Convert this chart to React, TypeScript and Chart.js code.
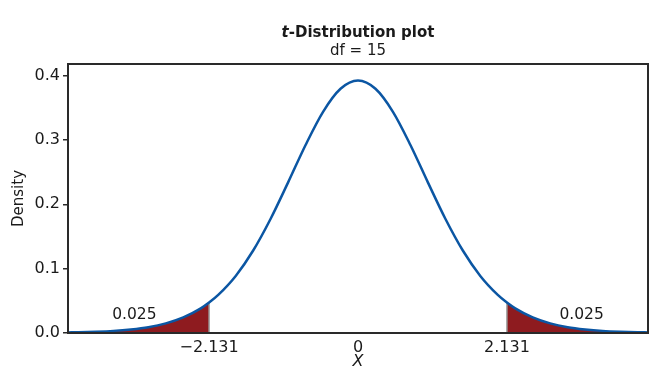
import React, { useEffect, useRef } from "react";
import { Chart, registerables } from "chart.js";

Chart.register(...registerables);

// t-distribution (df = 15) density curve
const xValues = [
  -4.15, -4, -3.75, -3.5, -3.25, -3, -2.75, -2.5, -2.25, -2.131, -2, -1.75, -1.5, -1.25, -1, -0.75, -0.5, -0.25,
  0, 0.25, 0.5, 0.75, 1, 1.25, 1.5, 1.75, 2, 2.131, 2.25, 2.5, 2.75, 3, 3.25, 3.5, 3.75, 4, 4.15,
];
const density = [
  0.0009, 0.0012, 0.002, 0.0033, 0.0056, 0.0091, 0.015, 0.0242, 0.0383, 0.0473, 0.0592, 0.0887, 0.1282, 0.1776, 0.2341, 0.2922, 0.3437, 0.3795,
  0.3923, 0.3795, 0.3437, 0.2922, 0.2341, 0.1776, 0.1282, 0.0887, 0.0592, 0.0473, 0.0383, 0.0242, 0.015, 0.0091, 0.0056, 0.0033, 0.002, 0.0012, 0.0009,
];
const criticalValues = [-2.131, 2.131];
const xTickValues = [-2.131, 0, 2.131];
const xTickLabels = ["\u22122.131", "0", "2.131"];
const yTickValues = [0, 0.1, 0.2, 0.3, 0.4];
const tailLabelX = [-3.2, 3.2];
const tailLabelY = [0.028, 0.028];
const tailLabelText = ["0.025", "0.025"];
const titleItalic = "t";
const titleRest = "-Distribution plot";
const subtitle = "df = 15";

const FONT = "'DejaVu Sans', 'Liberation Sans', Arial, sans-serif";

export default function App() {
  const ref = useRef<HTMLCanvasElement | null>(null);

  useEffect(() => {
    const canvas = ref.current;
    if (!canvas) return;
    const curve = xValues.map((x, i) => ({ x, y: density[i] }));
    const leftTail = curve.filter((p) => p.x <= criticalValues[0] + 1e-9);
    const rightTail = curve.filter((p) => p.x >= criticalValues[1] - 1e-9);
    const critY = (cx: number) => density[xValues.indexOf(cx)];
    const vLines = criticalValues.map((cx) => [
      { x: cx, y: 0 },
      { x: cx, y: critY(cx) },
    ]);

    const decor = {
      id: "decor",
      afterDatasetsDraw(chart: any) {
        const { ctx, chartArea, scales } = chart;
        ctx.save();
        // labels in the tails
        ctx.fillStyle = "#1a1a1a";
        ctx.font = `15.5px ${FONT}`;
        ctx.textAlign = "center";
        ctx.textBaseline = "middle";
        tailLabelText.forEach((t, i) => {
          ctx.fillText(t, scales.x.getPixelForValue(tailLabelX[i]), scales.y.getPixelForValue(tailLabelY[i]));
        });
        // frame
        ctx.strokeStyle = "#2a2a2a";
        ctx.lineWidth = 2;
        ctx.strokeRect(chartArea.left, chartArea.top, chartArea.right - chartArea.left, chartArea.bottom - chartArea.top);
        // title
        const cx = (chartArea.left + chartArea.right) / 2;
        ctx.fillStyle = "#1a1a1a";
        ctx.textBaseline = "alphabetic";
        ctx.font = `italic bold 15px ${FONT}`;
        const w1 = ctx.measureText(titleItalic).width;
        ctx.font = `bold 15px ${FONT}`;
        const w2 = ctx.measureText(titleRest).width;
        const start = cx - (w1 + w2) / 2;
        ctx.textAlign = "left";
        ctx.font = `italic bold 15px ${FONT}`;
        ctx.fillText(titleItalic, start, 37);
        ctx.font = `bold 15px ${FONT}`;
        ctx.fillText(titleRest, start + w1, 37);
        ctx.font = `15px ${FONT}`;
        ctx.textAlign = "center";
        ctx.fillText(subtitle, cx, 55);
        ctx.restore();
      },
    };

    const chart = new Chart(canvas, {
      type: "line",
      data: {
        datasets: [
          {
            data: curve,
            borderColor: "#0b56a3",
            borderWidth: 2.5,
            pointRadius: 0,
            cubicInterpolationMode: "monotone",
            fill: false,
            order: 0,
          },
          {
            data: leftTail,
            borderWidth: 0,
            borderColor: "rgba(0,0,0,0)",
            backgroundColor: "#8e1b1f",
            pointRadius: 0,
            cubicInterpolationMode: "monotone",
            fill: "origin",
            order: 3,
          },
          {
            data: rightTail,
            borderWidth: 0,
            borderColor: "rgba(0,0,0,0)",
            backgroundColor: "#8e1b1f",
            pointRadius: 0,
            cubicInterpolationMode: "monotone",
            fill: "origin",
            order: 3,
          },
          {
            data: vLines[0],
            borderColor: "#9a9a9a",
            borderWidth: 1.5,
            pointRadius: 0,
            fill: false,
            order: 2,
          },
          {
            data: vLines[1],
            borderColor: "#9a9a9a",
            borderWidth: 1.5,
            pointRadius: 0,
            fill: false,
            order: 2,
          },
        ],
      } as any,
      options: {
        responsive: false,
        animation: false,
        layout: { padding: { left: 0, top: 64, right: 1, bottom: 0 } },
        plugins: { legend: { display: false }, tooltip: { enabled: false }, title: { display: false } },
        scales: {
          x: {
            type: "linear",
            min: -4.15,
            max: 4.15,
            afterBuildTicks: (s: any) => {
              s.ticks = xTickValues.map((v) => ({ value: v }));
            },
            afterFit: (s: any) => {
              s.height = 35;
            },
            grid: { display: false, drawTicks: false },
            border: { display: false },
            ticks: {
              autoSkip: false,
              maxRotation: 0,
              padding: 5,
              color: "#1a1a1a",
              font: { family: FONT, size: 16 },
              callback: (v: any) => {
                const i = xTickValues.indexOf(Number(v));
                return i >= 0 ? xTickLabels[i] : "";
              },
            },
            title: {
              display: true,
              text: "X",
              color: "#1a1a1a",
              font: { family: FONT, size: 16, style: "italic" },
              padding: { top: 0, bottom: -3 },
            },
          },
          y: {
            type: "linear",
            min: 0,
            max: 0.418,
            afterBuildTicks: (s: any) => {
              s.ticks = yTickValues.map((v) => ({ value: v }));
            },
            afterFit: (s: any) => {
              s.width = 68;
            },
            grid: {
              display: true,
              drawOnChartArea: false,
              drawTicks: true,
              tickLength: 5,
              color: "#2a2a2a",
              lineWidth: 1.5,
            },
            border: { display: false },
            ticks: {
              padding: 3,
              color: "#1a1a1a",
              font: { family: FONT, size: 16 },
              callback: (v: any) => Number(v).toFixed(1),
            },
            title: {
              display: true,
              text: "Density",
              color: "#1a1a1a",
              font: { family: FONT, size: 15 },
              padding: { top: 10, bottom: 0 },
            },
          },
        },
      } as any,
      plugins: [decor],
    });
    return () => chart.destroy();
  }, []);

  return (
    <div style={{ position: "fixed", left: 0, top: 0, width: 649, height: 368, background: "#fff" }}>
      <canvas ref={ref} width={649} height={368} style={{ display: "block" }} />
    </div>
  );
}
